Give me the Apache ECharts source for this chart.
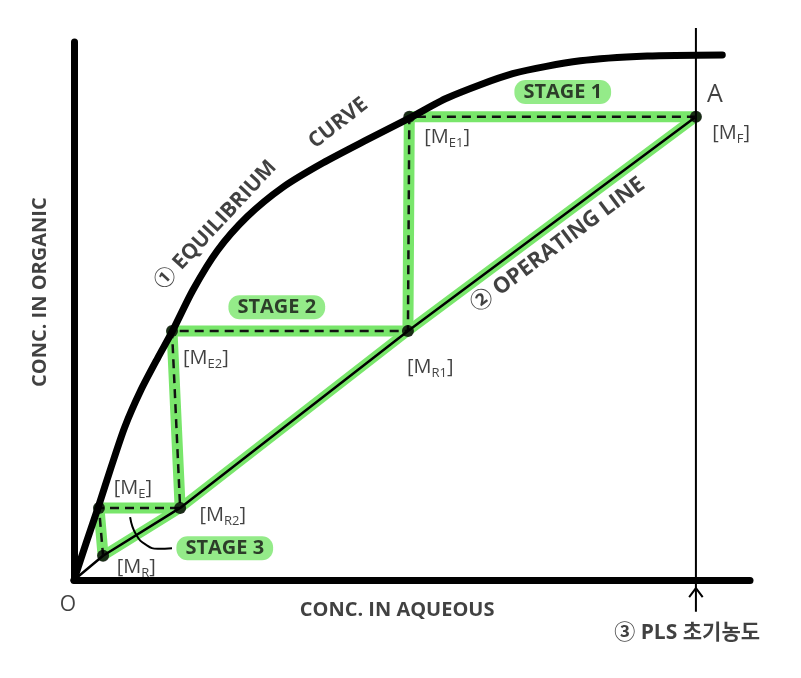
<!DOCTYPE html>
<html>
<head>
<meta charset="utf-8">
<script src="https://cdn.jsdelivr.net/npm/echarts@6/dist/echarts.min.js"></script>
<style>
html,body{margin:0;padding:0;background:#fff;}
#chart{width:801px;height:678px;}
</style>
</head>
<body>
<div id="chart"></div>
<script>
// Equilibrium curve (conc. in aqueous vs conc. in organic)
const eqX = [0, 1.8, 3.6, 5.5, 7.5, 9.9, 12.4, 14.5, 17.6, 21.2, 25.6, 30.9, 36.8, 43.3, 49.7, 55.2, 64.9, 74.9, 84.8, 95.9];
const eqY = [0, 6.9, 13.6, 21.0, 28.4, 35.3, 41.3, 46.1, 53.9, 61.2, 67.5, 73.0, 77.5, 81.8, 85.9, 89.6, 94.1, 96.5, 97.4, 97.6];

// Stage points (staircase order)
const pointNames = ['MF', 'ME1', 'MR1', 'ME2', 'MR2', 'ME', 'MR'];
const pointX = [92, 49.6, 49.4, 14.5, 15.7, 3.7, 4.3];
const pointY = [86.1, 86.1, 46.3, 46.3, 13.4, 13.4, 4.5];

// Operating line
const opX = [0, 4.3, 15.7, 49.4, 92];
const opY = [0, 4.5, 13.4, 46.3, 86.1];

// PLS initial concentration
const plsX = 92;
const plsYRange = [-5.9, 102.6];

// Text annotations
const annText = ['① EQUILIBRIUM', 'CURVE', '② OPERATING LINE', 'STAGE 1', 'STAGE 2', 'STAGE 3', 'A', 'O',
  'CONC. IN AQUEOUS', 'CONC. IN ORGANIC', '③ PLS 초기농도'];
const annX = [21.0, 39.1, 71.6, 72.3, 30.0, 22.3, 94.8, -0.9, 47.8, -5.0, 90.7];
const annY = [66.0, 84.9, 62.3, 90.7, 50.7, 5.9, 90.1, -4.6, -5.6, 53.5, -9.9];
const annRot = [47, 38, 36.6, 0, 0, 0, 0, 0, 0, 90, 0];
const annSize = [21, 21, 22, 20, 20, 20, 25, 21, 20, 20, 21];

// Point labels
const lblMain = ['F', 'E1', 'R1', 'E2', 'R2', 'E', 'R'];
const lblX = [97.2, 55.2, 52.7, 19.5, 22.0, 8.7, 9.2];
const lblY = [83.1, 82.3, 39.6, 41.3, 12.1, 17.1, 2.4];

const GREEN = '#79e66b';
const FONT = "'Open Sans', 'Noto Sans CJK KR', sans-serif";
const zip = (a, b) => a.map((v, i) => [v, b[i]]);

const chart = echarts.init(document.getElementById('chart'), null, {renderer: 'canvas'});

const axisCommon = {
  type: 'value', min: 0, max: 100,
  axisLine: {show: true, onZero: false, lineStyle: {color: '#000', width: 7, cap: 'round'}},
  axisTick: {show: false}, axisLabel: {show: false}, splitLine: {show: false}
};

const annData = annText.map((t, i) => {
  const isStage = t.startsWith('STAGE');
  const thin = (t === 'A' || t === 'O');
  return {
    value: [annX[i], annY[i]],
    label: {
      formatter: t, rotate: annRot[i], fontSize: annSize[i],
      fontWeight: thin ? 'normal' : 'bold',
      backgroundColor: isStage ? GREEN : 'transparent',
      borderRadius: isStage ? 11 : 0,
      padding: isStage ? [3, 9, 1, 9] : 0
    }
  };
});

const lblData = lblMain.map((s, i) => ({
  value: [lblX[i], lblY[i]],
  label: {formatter: '{m|[M}{s|' + s + '}{m|]}'}
}));

const option = {
  animation: false,
  backgroundColor: '#fff',
  grid: {left: 74, top: 42, width: 676, height: 538},
  xAxis: axisCommon,
  yAxis: axisCommon,
  series: [
    { // green highlight on staircase
      type: 'line', data: zip(pointX, pointY), symbol: 'none', z: 1,
      lineStyle: {color: GREEN, width: 11, join: 'round', cap: 'round'}
    },
    { // green highlight on operating line
      type: 'line', data: zip(opX, opY).slice(1), symbol: 'none', z: 1,
      lineStyle: {color: GREEN, width: 10, cap: 'round'}
    },
    { // operating line
      type: 'line', data: zip(opX, opY), symbol: 'none', z: 3,
      lineStyle: {color: '#000', width: 2.5}
    },
    { // dashed staircase
      type: 'line', data: zip(pointX, pointY), symbol: 'none', z: 3,
      lineStyle: {color: '#111', width: 2.5, type: [9, 6]}
    },
    { // equilibrium curve
      type: 'line', data: zip(eqX, eqY), symbol: 'none', smooth: 0.25, z: 4, clip: false,
      lineStyle: {color: '#000', width: 7, cap: 'round', join: 'round'}
    },
    { // PLS vertical line
      type: 'line', data: [[plsX, plsYRange[0]], [plsX, plsYRange[1]]], symbol: 'none', z: 2, clip: false,
      lineStyle: {color: '#000', width: 2}
    },
    { // arrow head
      type: 'line', data: [[plsX - 1.0, -3.2], [plsX, -1.5], [plsX + 1.0, -3.2]], symbol: 'none', z: 2, clip: false,
      lineStyle: {color: '#000', width: 2}
    },
    { // stage 3 leader
      type: 'line', data: [[8.3, 11.7], [9.2, 8.4], [10.7, 6.5], [12.4, 5.8], [14.5, 5.9]], symbol: 'none', smooth: true, z: 3,
      lineStyle: {color: '#000', width: 2}
    },
    { // stage points
      type: 'scatter', data: zip(pointX, pointY), symbol: 'circle', symbolSize: 12, z: 6,
      itemStyle: {color: '#000'}
    },
    { // point labels
      type: 'scatter', data: lblData, symbolSize: 1, z: 7, clip: false,
      itemStyle: {color: 'rgba(0,0,0,0)'},
      label: {
        show: true, position: 'inside', color: '#111',
        rich: {
          m: {fontFamily: FONT, fontSize: 20, color: '#111', lineHeight: 26, verticalAlign: 'middle'},
          s: {fontFamily: FONT, fontSize: 13, color: '#111', lineHeight: 26, verticalAlign: 'bottom', padding: [8, 0, 0, 0]}
        }
      }
    },
    { // text annotations
      type: 'scatter', data: annData, symbolSize: 1, z: 8, clip: false,
      itemStyle: {color: 'rgba(0,0,0,0)'},
      label: {show: true, position: 'inside', color: '#111', fontFamily: FONT}
    }
  ]
};
chart.setOption(option);
</script>
</body>
</html>
